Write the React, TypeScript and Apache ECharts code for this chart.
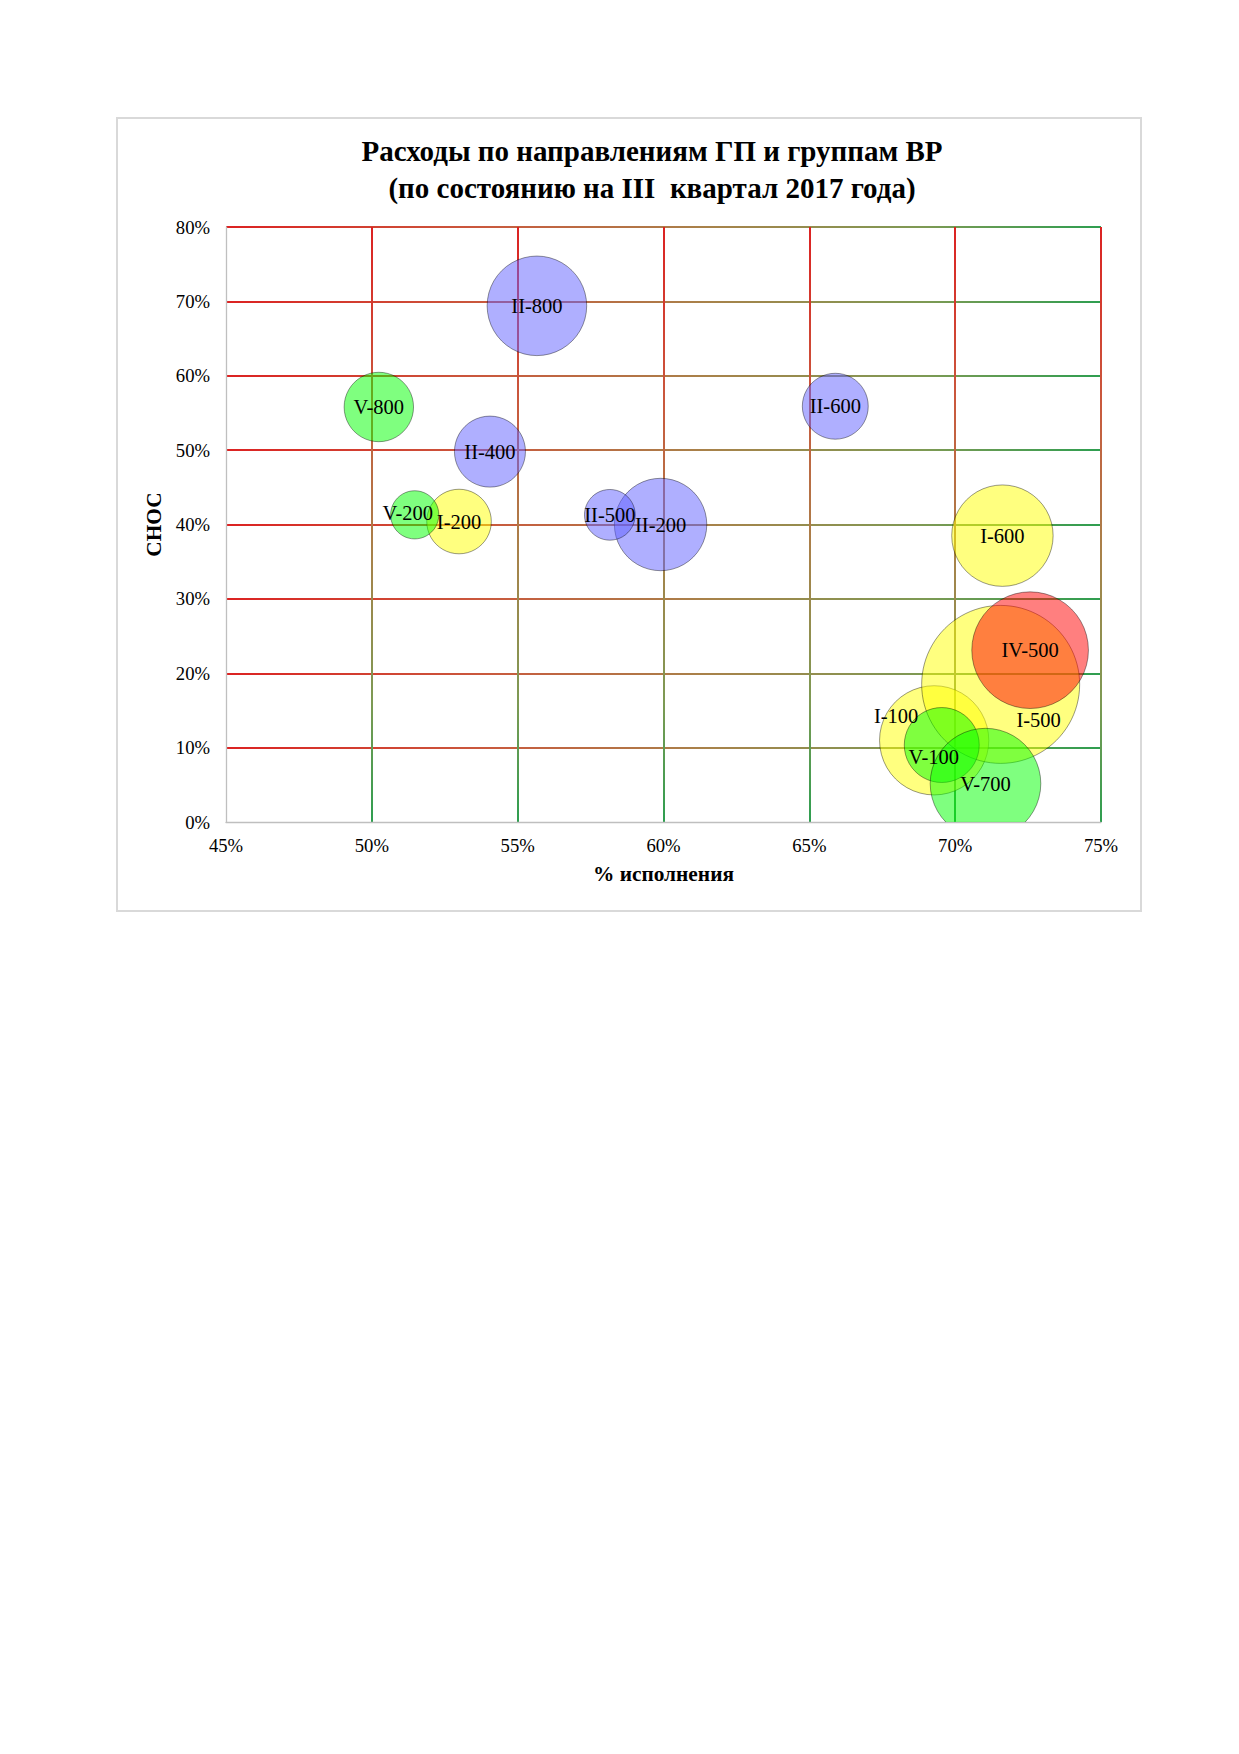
import React, { useEffect, useRef } from "react";
import * as echarts from "echarts";

// ---- data ----
const TITLE_LINE_1 = "Расходы по направлениям ГП и группам ВР";
const TITLE_LINE_2 = "(по состоянию на III  квартал 2017 года)";
const X_NAME = "% исполнения";
const Y_NAME = "СНОС";

const bubbleNames = [
  "I-100", "I-200", "I-500", "I-600",
  "II-200", "II-400", "II-500", "II-600", "II-800",
  "IV-500",
  "V-100", "V-200", "V-700", "V-800",
];
// % исполнения (x)
const executionPct = [
  69.28, 52.99, 71.56, 71.62,
  59.9, 54.05, 58.16, 65.89, 55.66,
  72.57,
  69.54, 51.47, 71.04, 50.24,
];
// СНОС (y)
const snosPct = [
  10.98, 40.4, 18.5, 38.5,
  40.0, 49.8, 41.3, 55.9, 69.4,
  23.1,
  10.35, 41.3, 5.16, 55.8,
];
// bubble volume (area-proportional)
const bubbleVolume = [
  478, 167, 1000, 412,
  342, 202, 103, 174, 397,
  545,
  225, 93, 490, 193,
];

const groups = ["I", "II", "IV", "V"];
const xMin = 45, xMax = 75, xStep = 5;
const yMin = 0, yMax = 80, yStep = 10;

// ---- styling ----
const FONT = '"Liberation Serif", "Times New Roman", serif';
const GROUP_FILL: Record<string, string> = {
  I: "rgba(255,255,0,0.5)",
  II: "rgba(96,96,255,0.5)",
  IV: "rgba(255,0,0,0.5)",
  V: "rgba(0,255,0,0.5)",
};
const LABEL_SHIFT: Record<string, [number, number]> = {
  "I-100": [-38, -24],
  "I-500": [38, 36],
  "V-100": [-8, 12],
  "V-200": [-7, -2],
};
const R_MAX = 79;
const GRID = { left: 226, top: 227, width: 875, height: 595 };
const GRAD_STOPS = [
  { offset: 0, color: "#dc2222" },
  { offset: 0.3, color: "#c95a3e" },
  { offset: 0.55, color: "#a8824a" },
  { offset: 0.8, color: "#7d9a54" },
  { offset: 1, color: "#2e9e50" },
];

export default function App() {
  const ref = useRef<HTMLDivElement>(null);

  useEffect(() => {
    document.body.style.margin = "0";
    if (!ref.current) return;
    const chart = echarts.init(ref.current, undefined, { renderer: "svg" });
    const maxVol = Math.max(...bubbleVolume);

    const hGrad = new echarts.graphic.LinearGradient(
      GRID.left, 0, GRID.left + GRID.width, 0, GRAD_STOPS, true
    );
    const vGrad = new echarts.graphic.LinearGradient(
      0, GRID.top, 0, GRID.top + GRID.height, GRAD_STOPS, true
    );

    const series = groups.map((g) => {
      const idx = bubbleNames
        .map((n, i) => ({ n, i }))
        .filter((d) => d.n.split("-")[0] === g)
        .map((d) => d.i);
      const data = idx.map((i) => ({
        name: bubbleNames[i],
        value: [executionPct[i], snosPct[i], bubbleVolume[i]],
      }));
      return {
        type: "custom",
        name: g,
        clip: true,
        data,
        renderItem: (params: any, api: any) => {
          const name = data[params.dataIndex].name;
          const c = api.coord([api.value(0), api.value(1)]);
          const r = R_MAX * Math.sqrt(api.value(2) / maxVol);
          const sh = LABEL_SHIFT[name] || [0, 0];
          return {
            type: "group",
            children: [
              {
                type: "circle",
                shape: { cx: c[0], cy: c[1], r },
                style: {
                  fill: GROUP_FILL[g],
                  stroke: "rgba(0,0,0,0.4)",
                  lineWidth: 1,
                },
                z2: 1,
              },
              {
                type: "text",
                x: c[0] + sh[0],
                y: c[1] + sh[1],
                z2: 100,
                style: {
                  text: name,
                  font: `20.5px ${FONT}`,
                  fill: "#000",
                  align: "center",
                  verticalAlign: "middle",
                  textAlign: "center",
                  textVerticalAlign: "middle",
                },
              },
            ],
          };
        },
      };
    });

    const titleStyle = (text: string) => ({
      text,
      font: `bold 29px ${FONT}`,
      fill: "#000",
      align: "center",
      verticalAlign: "middle",
      textAlign: "center",
      textVerticalAlign: "middle",
    });

    chart.setOption({
      animation: false,
      backgroundColor: "#ffffff",
      grid: { ...GRID, containLabel: false },
      xAxis: {
        type: "value",
        min: xMin,
        max: xMax,
        interval: xStep,
        name: X_NAME,
        nameLocation: "middle",
        nameGap: 41.5,
        nameTextStyle: { fontFamily: FONT, fontWeight: "bold", fontSize: 21.33, color: "#000" },
        axisLabel: { formatter: "{value}%", fontFamily: FONT, fontSize: 18.67, color: "#000", margin: 14 },
        axisLine: { show: true, lineStyle: { color: "#bfbfbf", width: 1.3 } },
        axisTick: { show: false },
        splitLine: { show: true, showMinLine: false, lineStyle: { color: vGrad, width: 2 } },
      },
      yAxis: {
        type: "value",
        min: yMin,
        max: yMax,
        interval: yStep,
        name: Y_NAME,
        nameLocation: "middle",
        nameGap: 55.5,
        nameTextStyle: { fontFamily: FONT, fontWeight: "bold", fontSize: 21.33, color: "#000" },
        axisLabel: { formatter: "{value}%", fontFamily: FONT, fontSize: 18.67, color: "#000", margin: 16 },
        axisLine: { show: true, lineStyle: { color: "#bfbfbf", width: 1.3 } },
        axisTick: { show: false },
        splitLine: { show: true, showMinLine: false, lineStyle: { color: hGrad, width: 2 } },
      },
      graphic: [
        {
          type: "rect",
          silent: true,
          z: -10,
          shape: { x: 117, y: 118, width: 1024, height: 793 },
          style: { fill: "none", stroke: "#d9d9d9", lineWidth: 2 },
        },
        { type: "text", x: 652, y: 150.5, style: titleStyle(TITLE_LINE_1) },
        { type: "text", x: 652, y: 187.5, style: titleStyle(TITLE_LINE_2) },
      ],
      series,
    });

    return () => chart.dispose();
  }, []);

  return <div ref={ref} style={{ width: 1239, height: 1754 }} />;
}
